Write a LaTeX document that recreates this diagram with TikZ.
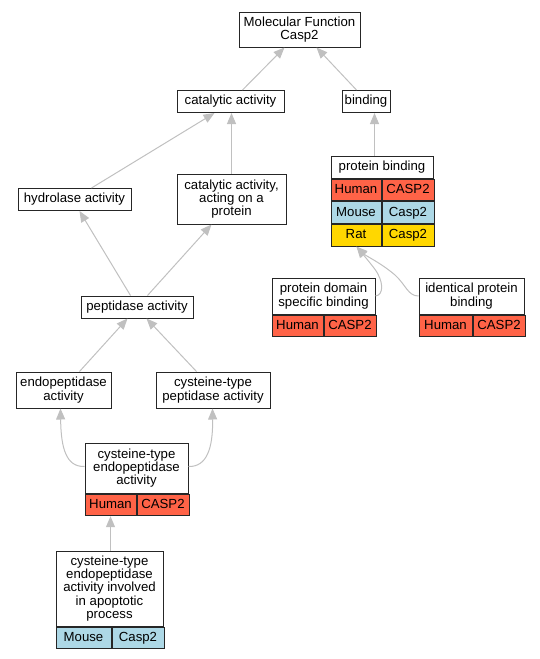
\documentclass[tikz,border=0pt]{standalone}
\usepackage{fontspec}
\setmainfont{Liberation Sans}
\usetikzlibrary{arrows.meta}
\definecolor{human}{HTML}{FF6347}
\definecolor{mouse}{HTML}{ADD8E6}
\definecolor{rat}{HTML}{FFD700}
\definecolor{edgegray}{HTML}{C0C0C0}
\tikzset{
	term/.style={draw=black!85, line width=1pt, fill=white, align=center, inner sep=0pt, minimum height=22pt, font=\fontsize{13.2}{13.2}\selectfont},
	cell/.style={term, minimum height=21.7pt, text height=9.4pt, text depth=2.4pt, anchor=north west},
	goedge/.style={draw=edgegray, line width=1pt, -{Triangle[length=11pt,width=9pt,fill=edgegray]}}
}
\begin{document}
\begin{tikzpicture}[x=1pt,y=-1pt]
			\useasboundingbox (0,0) rectangle (540,659);
			\node[term, minimum width=121pt, minimum height=35pt] (mf) at (299.5,29.5) {Molecular Function\\Casp2};
			\node[term, minimum width=107pt] (cat) at (230.5,101.5) {catalytic activity};
			\node[term, minimum width=48pt] (bind) at (366,101.5) {binding};
			\node[term, minimum width=113pt] (hyd) at (74.5,199.5) {hydrolase activity};
			\node[term, minimum width=109pt, minimum height=50pt] (catp) at (231.5,199) {catalytic activity,\\acting on a\\protein};
			\node[term, minimum width=112pt] (pep) at (137,307) {peptidase activity};
			\node[term, minimum width=95pt, minimum height=36pt] (endo) at (63.5,390) {endopeptidase\\activity};
			\node[term, minimum width=114pt, minimum height=36pt] (ctpep) at (213,390) {cysteine-type\\peptidase activity};
			\node[term, minimum width=102pt] (pb) at (382,167) {protein binding};
			\node[cell, fill=human, minimum width=50pt] (pbh) at (pb.south west) {Human};
			\node[cell, fill=human, minimum width=52pt] (pbhg) at (pbh.north east) {CASP2};
			\node[cell, fill=mouse, minimum width=50pt] (pbm) at (pbh.south west) {Mouse};
			\node[cell, fill=mouse, minimum width=52pt] (pbmg) at (pbm.north east) {Casp2};
			\node[cell, fill=rat, minimum width=50pt] (pbr) at (pbm.south west) {Rat};
			\node[cell, fill=rat, minimum width=52pt] (pbrg) at (pbr.north east) {Casp2};
			\node[term, minimum width=103pt, minimum height=36pt] (pdsb) at (323.5,296) {protein domain\\specific binding};
			\node[cell, fill=human, minimum width=51pt] (pdsbh) at (pdsb.south west) {Human};
			\node[cell, fill=human, minimum width=52pt] (pdsbhg) at (pdsbh.north east) {CASP2};
			\node[term, minimum width=105pt, minimum height=36pt] (ipb) at (471.5,296) {identical protein\\binding};
			\node[cell, fill=human, minimum width=53pt] (ipbh) at (ipb.south west) {Human};
			\node[cell, fill=human, minimum width=52pt] (ipbhg) at (ipbh.north east) {CASP2};
			\node[term, minimum width=103pt, minimum height=50pt] (ctendo) at (136.5,468) {cysteine-type\\endopeptidase\\activity};
			\node[cell, fill=human, minimum width=51pt] (ctendoh) at (ctendo.south west) {Human};
			\node[cell, fill=human, minimum width=52pt] (ctendohg) at (ctendoh.north east) {CASP2};
			\node[term, minimum width=107pt, minimum height=75pt] (apop) at (109.5,588.5) {cysteine-type\\endopeptidase\\activity involved\\in apoptotic\\process};
			\node[cell, fill=mouse, minimum width=55pt] (apopm) at (apop.south west) {Mouse};
			\node[cell, fill=mouse, minimum width=52pt] (apopmg) at (apopm.north east) {Casp2};
			\draw[goedge] ([xshift=66pt]cat.north west) -- ([xshift=46pt]mf.south west);
			\draw[goedge] ([xshift=15pt]bind.north west) -- ([xshift=78pt]mf.south west);
			\draw[goedge] ([xshift=74pt]hyd.north west) -- ([xshift=38pt]cat.south west);
			\draw[goedge] ([xshift=55pt]catp.north west) -- ([xshift=55pt]cat.south west);
			\draw[goedge] ([xshift=44pt]pb.north west) -- ([xshift=33pt]bind.south west);
			\draw[goedge] ([xshift=50pt]pep.north west) -- ([xshift=62pt]hyd.south west);
			\draw[goedge] ([xshift=67pt]pep.north west) -- ([xshift=35pt]catp.south west);
			\draw[goedge] ([xshift=64pt]endo.north west) -- ([xshift=47pt]pep.south west);
			\draw[goedge] ([xshift=41pt]ctpep.north west) -- ([xshift=66pt]pep.south west);
			\draw[goedge] ([yshift=-24pt]ctendo.north west) .. controls (66,467) and (61,448) .. ([xshift=45pt]endo.south west);
			\draw[goedge] ([yshift=-24pt]ctendo.north east) .. controls (207,467) and (213,448) .. ([xshift=57pt]ctpep.south west);
			\draw[goedge] ([xshift=55pt]apop.north west) -- ([xshift=26pt]ctendoh.south west);
			\draw[goedge] (pdsb.east) .. controls (384,295) and (384,281) .. (374,268) .. controls (367,259) and (361,252) .. ([xshift=26pt]pbr.south west);
			\draw[goedge] (ipb.west) .. controls (408,296) and (406,285) .. (395,275) .. controls (381,263) and (366,256) .. ([xshift=26pt]pbr.south west);
		\end{tikzpicture}
\end{document}
